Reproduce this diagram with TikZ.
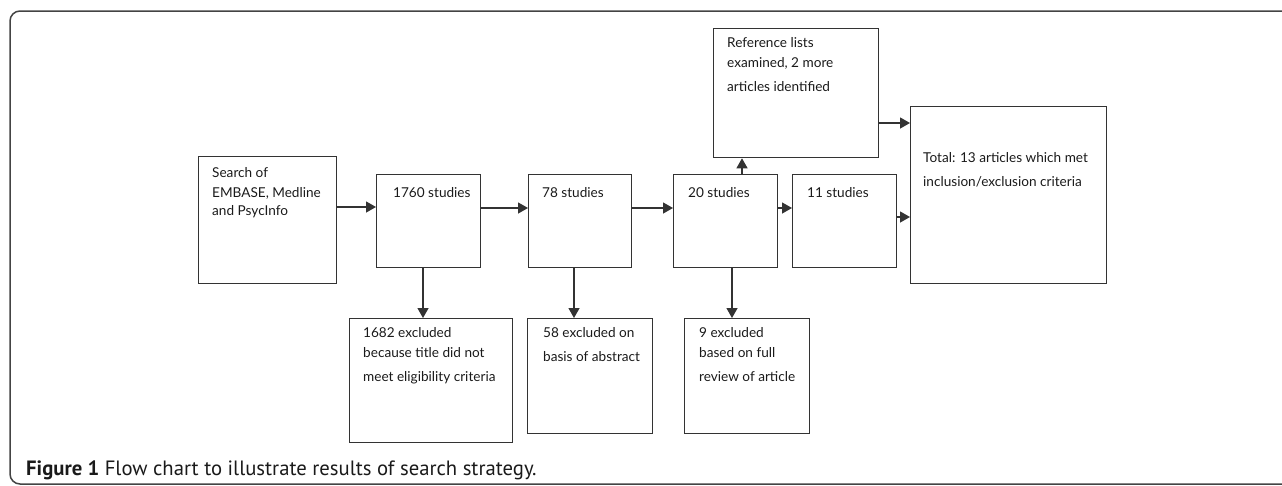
\documentclass[tikz,border=0pt]{standalone}
\usepackage{fontspec}
\setmainfont{Lato}
\newfontfamily\capfont{PT Sans}
\usetikzlibrary{arrows.meta,calc}
\definecolor{boxc}{HTML}{333333}
\definecolor{txtc}{HTML}{1A1A1A}
\definecolor{framec}{HTML}{444444}
\begin{document}
\begin{tikzpicture}[x=1pt,y=-1pt,
  box/.style={draw=boxc, line width=1.3pt, rectangle, inner sep=0pt, anchor=north west},
  txt/.style={anchor=base west, inner sep=0pt, font=\fontsize{13.6}{20}\selectfont, text=txtc},
  arr/.style={draw=boxc, line width=1.3pt, -{Triangle[length=10pt,width=11pt]}}]
\useasboundingbox (0,0) rectangle (1282,485);
\clip (0,0) rectangle (1282,485);
\draw[framec, line width=1.5pt, rounded corners=10pt] (10,11) rectangle (1300,484);
% boxes
\node[box, minimum width=138pt, minimum height=127pt] (search) at (198,156) {};
\node[box, minimum width=104pt, minimum height=93pt] (s1760) at (376,174) {};
\node[box, minimum width=103pt, minimum height=93pt] (s78) at (528,174) {};
\node[box, minimum width=104pt, minimum height=93pt] (s20) at (673,174) {};
\node[box, minimum width=104pt, minimum height=93pt] (s11) at (792,174) {};
\node[box, minimum width=165pt, minimum height=129pt] (ref) at (713,28) {};
\node[box, minimum width=196pt, minimum height=177pt] (total) at (910,106) {};
\node[box, minimum width=163pt, minimum height=124pt] (e1682) at (349,318) {};
\node[box, minimum width=125pt, minimum height=115pt] (e58) at (527,318) {};
\node[box, minimum width=125pt, minimum height=115pt] (e9) at (684,318) {};
% texts
\node[txt] (t1) at (212,177) {Search of};
\node[txt] (t2) at (212,197) {EMBASE, Medline};
\node[txt] (t3) at (212,215) {and PsycInfo};
\node[txt] (t4) at (393,197) {1760 studies};
\node[txt] (t5) at (542,197) {78 studies};
\node[txt] (t6) at (688,197) {20 studies};
\node[txt] (t7) at (807,197) {11 studies};
\node[txt] (t8) at (727,47) {Reference lists};
\node[txt] (t9) at (727,67) {examined, 2 more};
\node[txt] (t10) at (727,91) {articles identified};
\node[txt] (t11) at (923,162) {Total: 13 articles which met};
\node[txt] (t12) at (923,186) {inclusion/exclusion criteria};
\node[txt] (t13) at (363,337) {1682 excluded};
\node[txt] (t14) at (363,357) {because title did not};
\node[txt] (t15) at (363,381) {meet eligibility criteria};
\node[txt] (t16) at (543,337) {58 excluded on};
\node[txt] (t17) at (543,361) {basis of abstract};
\node[txt] (t18) at (699,337) {9 excluded};
\node[txt] (t19) at (699,357) {based on full};
\node[txt] (t20) at (699,381) {review of article};
% arrows
\draw[arr] (search.east |- 0,207) -- (s1760.west |- 0,207);
\draw[arr] (s1760.east |- 0,208) -- (s78.west |- 0,208);
\draw[arr] (s78.east |- 0,208) -- (s20.west |- 0,208);
\draw[arr] (s20.east |- 0,208) -- (s11.west |- 0,208);
\draw[arr] (s11.east |- 0,217) -- (total.west |- 0,217);
\draw[arr] (ref.east |- 0,123) -- (total.west |- 0,123);
\draw[arr] (s20.north -| 742,0) -- (ref.south -| 742,0);
\draw[arr] (s1760.south -| 423,0) -- (e1682.north -| 423,0);
\draw[arr] (s78.south -| 574,0) -- (e58.north -| 574,0);
\draw[arr] (s20.south -| 732,0) -- (e9.north -| 732,0);
% caption
\node[anchor=base west, inner sep=0pt, text=txtc] (cap) at (26,475) {\capfont\fontsize{20.7}{24}\selectfont\textbf{Figure 1} Flow chart to illustrate results of search strategy.};
\end{tikzpicture}
\end{document}
